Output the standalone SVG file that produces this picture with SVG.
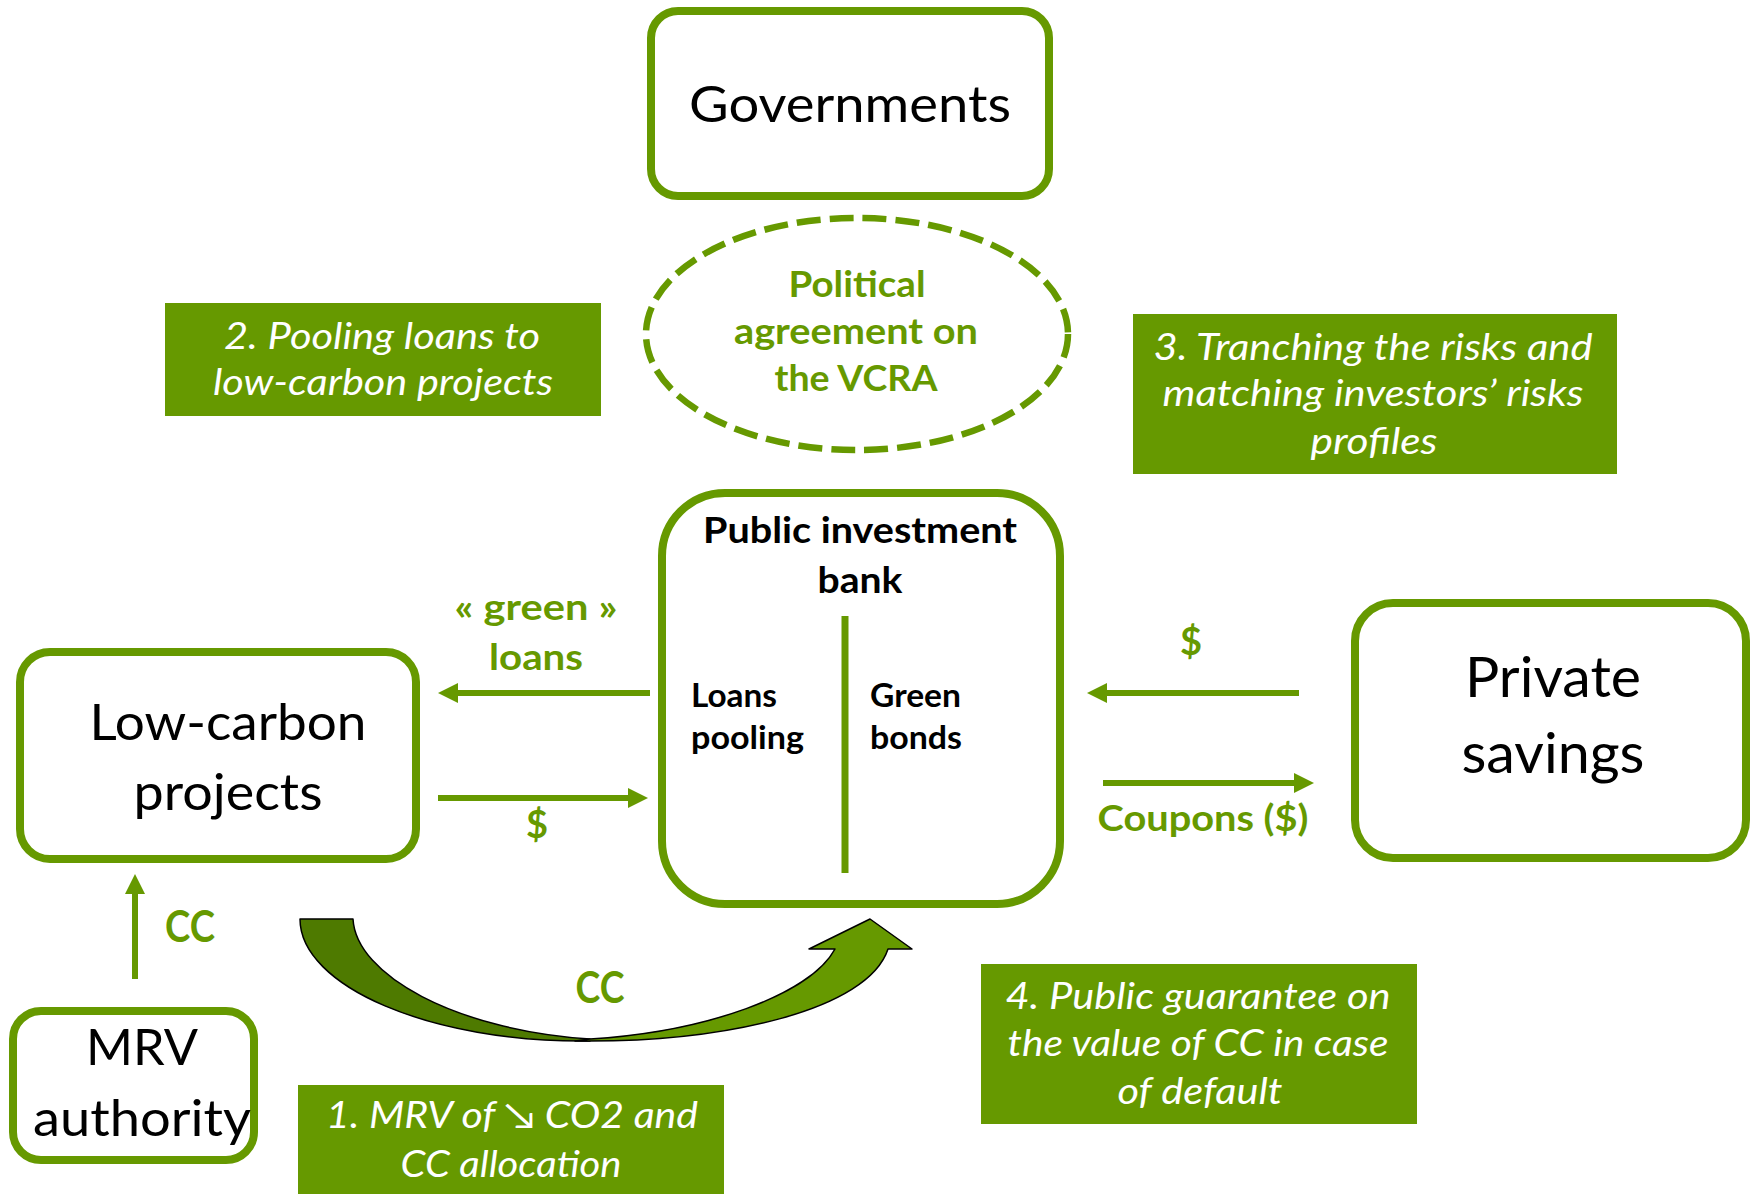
<svg xmlns="http://www.w3.org/2000/svg" width="1751" height="1194" viewBox="0 0 1751 1194">
<style>
.node{fill:#fff;stroke:#669900;stroke-width:8}
.note{fill:#669900}
.t{font-family:Lato,"Open Sans","Liberation Sans",sans-serif;text-anchor:middle}
.blk{fill:#000}
.grn{fill:#669900;font-weight:bold}
.wht{fill:#fff;font-style:italic;font-size:37px}
.b{font-weight:bold}
.conn{stroke:#669900;stroke-width:6;fill:none}
</style>
<defs>
<marker id="ah" markerUnits="userSpaceOnUse" viewBox="0 0 20 20" markerWidth="20" markerHeight="20" refX="2" refY="10" orient="auto">
<path d="M0,0 L20,10 L0,20 Z" fill="#669900"/>
</marker>
</defs>
<rect width="1751" height="1194" fill="#fff"/>

<g id="governments">
<rect class="node" x="651" y="11" width="398" height="185" rx="27"/>
<text class="t blk" x="850" y="122" font-size="50" textLength="322" lengthAdjust="spacingAndGlyphs">Governments</text>
</g>

<g id="political-agreement">
<ellipse cx="857" cy="334" rx="211" ry="116" fill="none" stroke="#669900" stroke-width="6.5" stroke-dasharray="24 9"/>
<text class="t grn" font-size="36"><tspan x="857" y="297" textLength="137" lengthAdjust="spacingAndGlyphs">Political</tspan><tspan x="856" y="344" textLength="244" lengthAdjust="spacingAndGlyphs">agreement on</tspan><tspan x="856" y="391" textLength="163" lengthAdjust="spacingAndGlyphs">the VCRA</tspan></text>
</g>

<g id="note-2">
<rect class="note" x="165" y="303" width="436" height="113"/>
<text class="t wht"><tspan x="382" y="349" textLength="316" lengthAdjust="spacingAndGlyphs">2. Pooling loans to</tspan><tspan x="383" y="395" textLength="340" lengthAdjust="spacingAndGlyphs">low-carbon projects</tspan></text>
</g>

<g id="note-3">
<rect class="note" x="1133" y="314" width="484" height="160"/>
<text class="t wht"><tspan x="1373" y="360" textLength="439" lengthAdjust="spacingAndGlyphs">3. Tranching the risks and</tspan><tspan x="1373" y="406" textLength="421" lengthAdjust="spacingAndGlyphs">matching investors’ risks</tspan><tspan x="1374" y="454" textLength="127" lengthAdjust="spacingAndGlyphs">profiles</tspan></text>
</g>

<g id="public-investment-bank">
<rect class="node" x="662" y="493" width="398" height="411" rx="63"/>
<text class="t blk b" font-size="36"><tspan x="860" y="543" textLength="314" lengthAdjust="spacingAndGlyphs">Public investment</tspan><tspan x="860" y="593" textLength="85" lengthAdjust="spacingAndGlyphs">bank</tspan></text>
<line x1="845" y1="616" x2="845" y2="873" stroke="#669900" stroke-width="7"/>
<text class="blk b" font-family="Lato,'Open Sans','Liberation Sans',sans-serif" font-size="32"><tspan x="691" y="707" textLength="86" lengthAdjust="spacingAndGlyphs">Loans</tspan><tspan x="691" y="749" textLength="113" lengthAdjust="spacingAndGlyphs">pooling</tspan></text>
<text class="blk b" font-family="Lato,'Open Sans','Liberation Sans',sans-serif" font-size="32"><tspan x="870" y="707" textLength="91" lengthAdjust="spacingAndGlyphs">Green</tspan><tspan x="870" y="749" textLength="92" lengthAdjust="spacingAndGlyphs">bonds</tspan></text>
</g>

<g id="low-carbon-projects">
<rect class="node" x="20" y="652" width="396" height="207" rx="30"/>
<text class="t blk" font-size="50"><tspan x="228" y="740" textLength="277" lengthAdjust="spacingAndGlyphs">Low-carbon</tspan><tspan x="228" y="810" textLength="189" lengthAdjust="spacingAndGlyphs">projects</tspan></text>
</g>

<g id="private-savings">
<rect class="node" x="1355" y="603" width="391" height="255" rx="38"/>
<text class="t blk" font-size="57"><tspan x="1553" y="697" textLength="176" lengthAdjust="spacingAndGlyphs">Private</tspan><tspan x="1553" y="773" textLength="183" lengthAdjust="spacingAndGlyphs">savings</tspan></text>
</g>

<g id="mrv-authority">
<rect class="node" x="13" y="1011" width="241" height="149" rx="28" stroke-width="7.5"/>
<text class="t blk" font-size="51"><tspan x="142" y="1065" textLength="112" lengthAdjust="spacingAndGlyphs">MRV</tspan><tspan x="142" y="1136" textLength="218" lengthAdjust="spacingAndGlyphs">authority</tspan></text>
</g>

<g id="note-1">
<rect class="note" x="298" y="1085" width="426" height="109"/>
<text class="t wht"><tspan x="512" y="1128" textLength="372" lengthAdjust="spacingAndGlyphs">1. MRV of ↘ CO2 and</tspan><tspan x="511" y="1177" textLength="221" lengthAdjust="spacingAndGlyphs">CC allocation</tspan></text>
</g>

<g id="note-4">
<rect class="note" x="981" y="964" width="436" height="160"/>
<text class="t wht"><tspan x="1198" y="1009" textLength="385" lengthAdjust="spacingAndGlyphs">4. Public guarantee on</tspan><tspan x="1198" y="1056" textLength="381" lengthAdjust="spacingAndGlyphs">the value of CC in case</tspan><tspan x="1200" y="1104" textLength="165" lengthAdjust="spacingAndGlyphs">of default</tspan></text>
</g>

<g id="connectors">
<line class="conn" x1="650" y1="693" x2="456" y2="693" marker-end="url(#ah)"/>
<line class="conn" x1="438" y1="798" x2="630" y2="798" marker-end="url(#ah)"/>
<line class="conn" x1="1299" y1="693" x2="1105" y2="693" marker-end="url(#ah)"/>
<line class="conn" x1="1103" y1="783" x2="1296" y2="783" marker-end="url(#ah)"/>
<line class="conn" x1="135" y1="979" x2="135" y2="892" marker-end="url(#ah)"/>
<path d="M300,919 L353,919 C356,975 455,1030 590,1039 L590,1041 C430,1043 300,986 300,919 Z" fill="#4e7a00" stroke="#000" stroke-width="1.5" stroke-linejoin="round"/>
<path d="M575,1041 C725,1043 868,1010 888,949 L912,949 L870,919 L809,949 L835,949 C810,995 705,1032 590,1039 Z" fill="#669900" stroke="#000" stroke-width="1.5" stroke-linejoin="round"/>
<text class="t grn" font-size="36"><tspan x="536" y="620" textLength="163" lengthAdjust="spacingAndGlyphs">« green »</tspan><tspan x="536" y="670" textLength="94" lengthAdjust="spacingAndGlyphs">loans</tspan></text>
<text class="t grn" font-size="38" x="537" y="838">$</text>
<text class="t grn" font-size="38" x="1191" y="655">$</text>
<text class="t grn" font-size="36" x="1203" y="831" textLength="211" lengthAdjust="spacingAndGlyphs">Coupons ($)</text>
<text class="t grn" font-size="43" x="190" y="942" textLength="50" lengthAdjust="spacingAndGlyphs">CC</text>
<text class="t grn" font-size="43" x="600" y="1003" textLength="49" lengthAdjust="spacingAndGlyphs">CC</text>
</g>
</svg>
